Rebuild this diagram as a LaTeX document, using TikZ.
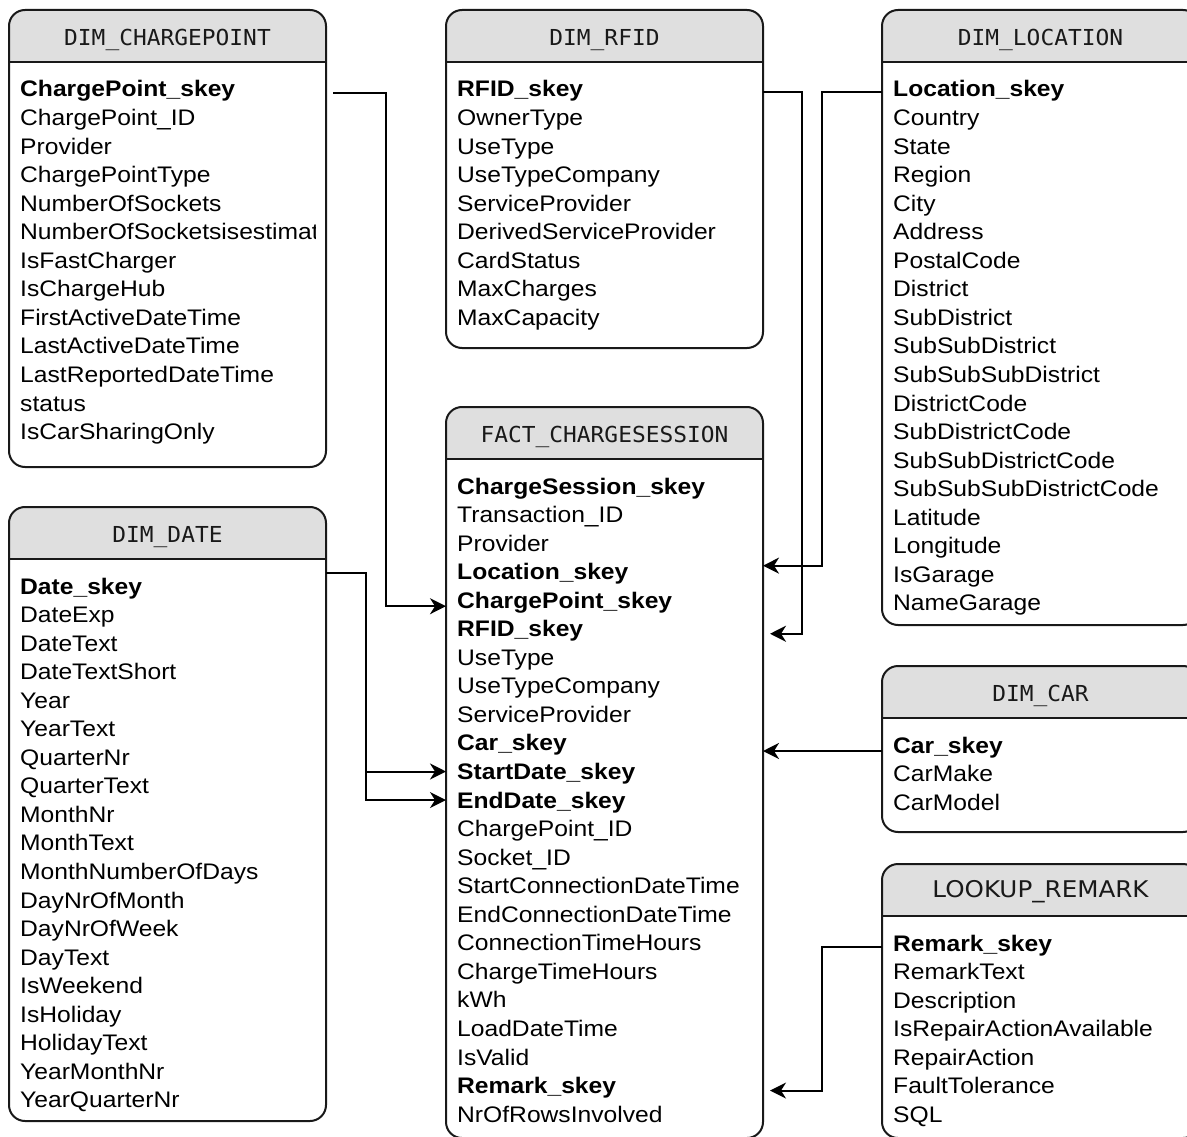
\documentclass[tikz,border=0pt]{standalone}
\usepackage{fontspec}
\setmainfont[FakeStretch=1.095]{Liberation Sans}
\newfontfamily\hdrfont[FakeStretch=1.04]{DejaVu Sans Mono}
\newfontfamily\remfont[FakeStretch=1.07]{DejaVu Sans}
\usetikzlibrary{positioning,calc,arrows.meta}

\begin{document}
\begin{tikzpicture}[x=1pt, y=-1pt,
	tbl/.style={draw=black!90, line width=2pt, rounded corners=16pt, fill=white,
	minimum width=317pt, inner sep=0pt, outer sep=0pt, anchor=north west,
	path picture={\fill[gray!25, sharp corners] (path picture bounding box.north west) rectangle ([yshift=-52pt]path picture bounding box.north east);
	\draw[black!90, line width=2pt, sharp corners] ([yshift=-52pt]path picture bounding box.north west) -- ([yshift=-52pt]path picture bounding box.north east);}},
	hdr/.style={inner sep=0pt, text height=15.5pt, text depth=0pt, text=black!90,
	font=\hdrfont\fontsize{22}{26}\selectfont},
	attr/.style={anchor=west, inner sep=0pt, text height=16pt, text depth=0pt,
	font=\fontsize{22.5}{27}\selectfont},
	fk/.style={-{Stealth[length=16pt, width=16pt, inset=5pt]}, line width=2pt, black}
	]
	\clip (0,0) rectangle (1187,1137);
	
	\node[tbl, minimum height=457pt] (cpbox) at (9,10) {};
	\node[tbl, minimum height=338pt, right=120pt of cpbox.north east, anchor=north west] (rfidbox) {};
	\node[tbl, minimum height=615pt, right=119pt of rfidbox.north east, anchor=north west] (locbox) {};
	\node[tbl, minimum height=614pt, below=40pt of cpbox] (datebox) {};
	\node[tbl, minimum height=731pt, below=59pt of rfidbox] (factbox) {};
	\node[tbl, minimum height=166pt, below=41pt of locbox] (carbox) {};
	\node[tbl, minimum height=274pt, below=32pt of carbox] (rembox) {};
	
	\node[hdr] (cphead) at ($(cpbox.north)+(0,28)$) {DIM\_CHARGEPOINT};
	\node[hdr] (rfidhead) at ($(rfidbox.north)+(0,28)$) {DIM\_RFID};
	\node[hdr] (lochead) at ($(locbox.north)+(0,28)$) {DIM\_LOCATION};
	\node[hdr] (datehead) at ($(datebox.north)+(0,28)$) {DIM\_DATE};
	\node[hdr] (facthead) at ($(factbox.north)+(0,28)$) {FACT\_CHARGESESSION};
	\node[hdr] (carhead) at ($(carbox.north)+(0,28)$) {DIM\_CAR};
	\node[hdr, font=\remfont\fontsize{23}{27}\selectfont] (remhead) at ($(rembox.north)+(0,26)$) {LOOKUP\_REMARK};
	
	\begin{scope}
	\clip (cpbox.north west) rectangle ($(cpbox.south east)+(-11,0)$);
	\foreach \t [count=\i] in {\textbf{ChargePoint\_skey}, ChargePoint\_ID, Provider, ChargePointType, NumberOfSockets, NumberOfSocketsisestimat, IsFastCharger, IsChargeHub, FirstActiveDateTime, LastActiveDateTime, LastReportedDateTime, status, IsCarSharingOnly}
		\node[attr] (cp\i) at ($(cpbox.north west)+(11,{79+28.55*(\i-1)})$) {\t};
	\end{scope}
	\foreach \t [count=\i] in {\textbf{RFID\_skey}, OwnerType, UseType, UseTypeCompany, ServiceProvider, DerivedServiceProvider, CardStatus, MaxCharges, MaxCapacity}
		\node[attr] (rf\i) at ($(rfidbox.north west)+(11,{79+28.55*(\i-1)})$) {\t};
	\foreach \t [count=\i] in {\textbf{Location\_skey}, Country, State, Region, City, Address, PostalCode, District, SubDistrict, SubSubDistrict, SubSubSubDistrict, DistrictCode, SubDistrictCode, SubSubDistrictCode, SubSubSubDistrictCode, Latitude, Longitude, IsGarage, NameGarage}
		\node[attr] (loc\i) at ($(locbox.north west)+(11,{79+28.55*(\i-1)})$) {\t};
	\foreach \t [count=\i] in {\textbf{Date\_skey}, DateExp, DateText, DateTextShort, Year, YearText, QuarterNr, QuarterText, MonthNr, MonthText, MonthNumberOfDays, DayNrOfMonth, DayNrOfWeek, DayText, IsWeekend, IsHoliday, HolidayText, YearMonthNr, YearQuarterNr}
		\node[attr] (dt\i) at ($(datebox.north west)+(11,{79+28.55*(\i-1)})$) {\t};
	\foreach \t [count=\i] in {\textbf{ChargeSession\_skey}, Transaction\_ID, Provider, \textbf{Location\_skey}, \textbf{ChargePoint\_skey}, \textbf{RFID\_skey}, UseType, UseTypeCompany, ServiceProvider, \textbf{Car\_skey}, \textbf{StartDate\_skey}, \textbf{EndDate\_skey}, ChargePoint\_ID, Socket\_ID, StartConnectionDateTime, EndConnectionDateTime, ConnectionTimeHours, ChargeTimeHours, kWh, LoadDateTime, IsValid, \textbf{Remark\_skey}, NrOfRowsInvolved}
		\node[attr] (f\i) at ($(factbox.north west)+(11,{79+28.55*(\i-1)})$) {\t};
	\foreach \t [count=\i] in {\textbf{Car\_skey}, CarMake, CarModel}
		\node[attr] (car\i) at ($(carbox.north west)+(11,{79+28.55*(\i-1)})$) {\t};
	\foreach \t [count=\i] in {\textbf{Remark\_skey}, RemarkText, Description, IsRepairActionAvailable, RepairAction, FaultTolerance, SQL}
		\node[attr] (rem\i) at ($(rembox.north west)+(11,{79+28.55*(\i-1)})$) {\t};
	
	\draw[fk] ($(cpbox.east |- cp1)+(7,4)$) -- ++(53,0) |- ($(factbox.west |- f5)+(0,6)$);
	\coordinate (dj) at ($(datebox.east |- dt1)+(40,-13)$);
	\draw[fk] ($(datebox.east |- dt1)+(0,-13)$) -- (dj) |- (factbox.west |- f12);
	\draw[fk] (dj |- f11) -- (factbox.west |- f11);
	\draw[fk] ($(rfidbox.east |- rf1)+(0,3)$) -- ++(39,0) |- ($(factbox.east |- f6)+(7,5)$);
	\draw[fk] ($(locbox.west |- loc1)+(0,3)$) -- ++(-60,0) |- ($(factbox.east |- f4)+(0,-6)$);
	\draw[fk] ($(carbox.west |- car1)+(0,6)$) -- ($(factbox.east |- car1)+(0,6)$);
	\draw[fk] ($(rembox.west |- rem1)+(0,4)$) -- ++(-60,0) |- ($(factbox.east |- f22)+(7,5)$);
\end{tikzpicture}
\end{document}
